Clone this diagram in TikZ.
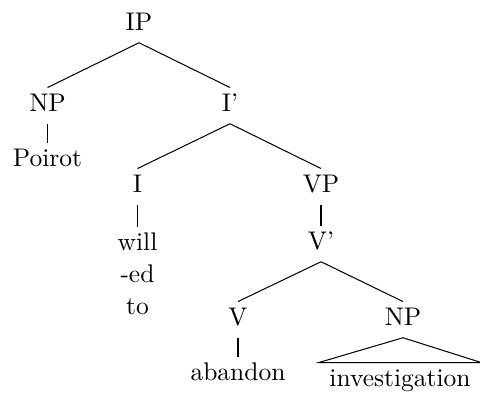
\documentclass[tikz,border=0pt]{standalone}
\usepackage{tikz}

\begin{document}
\begin{tikzpicture}[x=0.3922pt,y=-0.3922pt]
\tikzstyle{cat}=[anchor=base,inner sep=2pt,text height=7pt,text depth=2.8pt]
\tikzstyle{word}=[anchor=north,inner sep=2pt,align=center]

\useasboundingbox (0,0) rectangle (480,396);

\node[cat] (IP) at (139,30) {IP};
\node[cat] (NPsubj) at (47.5,111) {NP};
\node[cat] (Ibar) at (230,111) {I'};
\draw (IP.south) -- (NPsubj.north);
\draw (IP.south) -- (Ibar.north);

\node[cat] (poirot) at (47.5,166) {Poirot};
\draw (NPsubj.south) -- (poirot.north);

\node[cat] (I) at (137.5,192) {I};
\node[cat] (VP) at (321,192) {VP};
\draw (Ibar.south) -- (I.north);
\draw (Ibar.south) -- (VP.north);

\node[word] (will) at (137.5,227) {will\\[0.5pt]-ed\\[0.5pt]to};
\draw (I.south) -- (will.north);

\node[cat] (Vbar) at (321,249) {V'};
\draw (VP.south) -- (Vbar.north);

\node[cat] (V) at (238,325) {V};
\node[cat] (NPobj) at (403,325) {NP};
\draw (Vbar.south) -- (V.north);
\draw (Vbar.south) -- (NPobj.north);

\node[cat] (abandon) at (238,380) {abandon};
\draw (V.south) -- (abandon.north);

\node[cat] (invest) at (400,386) {investigation};
\draw (NPobj.south) -- ([xshift=-2pt]invest.north west) -- ([xshift=2pt]invest.north east) -- cycle;

\end{tikzpicture}
\end{document}
